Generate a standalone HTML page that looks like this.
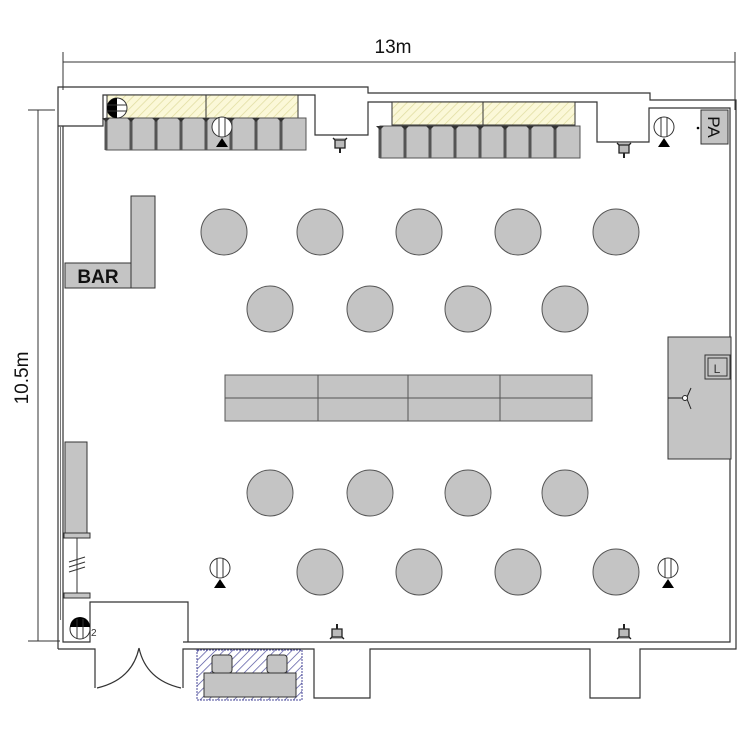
<!DOCTYPE html>
<html><head><meta charset="utf-8"><style>body{margin:0;background:#fff}svg{display:block}</style></head><body>
<svg width="750" height="750" viewBox="0 0 750 750" xmlns="http://www.w3.org/2000/svg" font-family="Liberation Sans, sans-serif">
<defs>
<pattern id="yh" width="6" height="6" patternUnits="userSpaceOnUse" patternTransform="rotate(45)"><rect width="6" height="6" fill="#fbf8d8"/><line x1="0" y1="0" x2="0" y2="6" stroke="#e0dca0" stroke-width="1.5"/></pattern>
<pattern id="bh" width="6" height="6" patternUnits="userSpaceOnUse" patternTransform="rotate(45)"><rect width="6" height="6" fill="#fff"/><line x1="0" y1="0" x2="0" y2="6" stroke="#4a4a9a" stroke-width="1.4"/></pattern>
<g id="spk"><circle cx="0" cy="0" r="10" fill="#fff" stroke="#333" stroke-width="1"/><line x1="-3" y1="-10" x2="-3" y2="10" stroke="#333"/><line x1="3" y1="-10" x2="3" y2="10" stroke="#333"/><polygon points="0,11 -6,20 6,20" fill="#000"/></g>
<g id="lamp"><path d="M-7,-5 L-5,-3 L-5,5 L5,5 L5,-3 L7,-5 M-5,-3 L5,-3" fill="#bbb" stroke="#222" stroke-width="1.3"/><line x1="0" y1="5" x2="0" y2="10" stroke="#222" stroke-width="2"/></g>
<g id="chair"><rect x="0" y="0" width="25" height="32" fill="#c4c4c4" stroke="#555" stroke-width="1"/><rect x="-1.5" y="0" width="3" height="32" fill="#555"/><path d="M-4,0 L4,0 L0,4 Z" fill="#333"/></g>
</defs>
<!-- dimensions -->
<line x1="63" y1="62" x2="735" y2="62" stroke="#333"/>
<line x1="63" y1="52" x2="63" y2="90" stroke="#333"/>
<line x1="735" y1="52" x2="735" y2="110" stroke="#333"/>
<text x="393" y="53" font-size="19" text-anchor="middle" fill="#111">13m</text>
<line x1="38" y1="110" x2="38" y2="641" stroke="#333"/>
<line x1="28" y1="110" x2="55" y2="110" stroke="#333"/>
<line x1="28" y1="641" x2="60" y2="641" stroke="#333"/>
<text transform="translate(28,378) rotate(-90)" font-size="19" text-anchor="middle" fill="#111">10.5m</text>
<!-- walls -->
<g fill="none" stroke="#333" stroke-width="1.2">
<path d="M58,649 L58,87 L368,87 L368,93 L650,93 L650,100 L736,100 L736,649 L640,649 L640,698 L590,698 L590,649 L370,649 L370,698 L314,698 L314,649 L183,649 L183,688"/>
<path d="M95,688 L95,649 L58,649"/>
<path d="M58,126 L103,126 L103,95 L315,95 L315,135 L368,135 L368,102 L597,102 L597,142 L649,142 L649,108 L730,108 L730,642 L183,642 L188,642 L188,602 L90,602 L90,642 L63,642 L63,126"/>
<path d="M97,688 Q132,680 139,648 M181,688 Q146,680 139,648"/>
</g>
<line x1="60.5" y1="126" x2="60.5" y2="620" stroke="#777" stroke-width="1"/>
<!-- top left seating -->
<rect x="107" y="95" width="191" height="23" fill="url(#yh)" stroke="#333"/>
<line x1="206" y1="95" x2="206" y2="118" stroke="#333"/>
<g><use href="#chair" x="106" y="118"/><use href="#chair" x="131" y="118"/><use href="#chair" x="156" y="118"/><use href="#chair" x="181" y="118"/><use href="#chair" x="206" y="118"/><use href="#chair" x="231" y="118"/><use href="#chair" x="256" y="118"/><use href="#chair" x="281" y="118"/></g>
<circle cx="117" cy="108" r="10" fill="#fff" stroke="#333"/><path d="M117,98 A10,10 0 0 0 117,118 Z" fill="#000"/><line x1="107" y1="105" x2="127" y2="105" stroke="#333"/><line x1="107" y1="111" x2="127" y2="111" stroke="#333"/>
<use href="#spk" x="222" y="127"/>
<!-- top right seating -->
<rect x="392" y="102" width="183" height="23" fill="url(#yh)" stroke="#333"/>
<line x1="483" y1="102" x2="483" y2="125" stroke="#333"/>
<g><use href="#chair" x="380" y="126"/><use href="#chair" x="405" y="126"/><use href="#chair" x="430" y="126"/><use href="#chair" x="455" y="126"/><use href="#chair" x="480" y="126"/><use href="#chair" x="505" y="126"/><use href="#chair" x="530" y="126"/><use href="#chair" x="555" y="126"/></g>
<use href="#lamp" x="340" y="143"/>
<use href="#lamp" x="624" y="148"/>
<use href="#spk" x="664" y="127"/>
<circle cx="698" cy="128" r="1.3" fill="#000"/>
<rect x="701" y="110" width="27" height="34" fill="#c4c4c4" stroke="#333"/>
<text transform="translate(708,127) rotate(90)" font-size="17" text-anchor="middle" fill="#111">PA</text>
<!-- bar -->
<rect x="131" y="196" width="24" height="92" fill="#c4c4c4" stroke="#333"/>
<rect x="65" y="263" width="66" height="25" fill="#c4c4c4" stroke="#333"/>
<text x="98" y="283" font-size="19" font-weight="bold" text-anchor="middle" fill="#111">BAR</text>
<!-- round tables -->
<g fill="#c4c4c4" stroke="#555" stroke-width="1">
<circle cx="224" cy="232" r="23"/><circle cx="320" cy="232" r="23"/><circle cx="419" cy="232" r="23"/><circle cx="518" cy="232" r="23"/><circle cx="616" cy="232" r="23"/>
<circle cx="270" cy="309" r="23"/><circle cx="370" cy="309" r="23"/><circle cx="468" cy="309" r="23"/><circle cx="565" cy="309" r="23"/>
<circle cx="270" cy="493" r="23"/><circle cx="370" cy="493" r="23"/><circle cx="468" cy="493" r="23"/><circle cx="565" cy="493" r="23"/>
<circle cx="320" cy="572" r="23"/><circle cx="419" cy="572" r="23"/><circle cx="518" cy="572" r="23"/><circle cx="616" cy="572" r="23"/>
</g>
<!-- center table -->
<rect x="225" y="375" width="367" height="46" fill="#c4c4c4" stroke="#555"/>
<g stroke="#555"><line x1="225" y1="398" x2="592" y2="398"/><line x1="318" y1="375" x2="318" y2="421"/><line x1="408" y1="375" x2="408" y2="421"/><line x1="500" y1="375" x2="500" y2="421"/></g>
<!-- stage -->
<rect x="668" y="337" width="63" height="122" fill="#c4c4c4" stroke="#333"/>
<rect x="705" y="355" width="25" height="24" fill="#c4c4c4" stroke="#333"/><rect x="708" y="358" width="19" height="18" fill="none" stroke="#333"/>
<text x="717" y="373" font-size="12" text-anchor="middle" fill="#333">L</text>
<g stroke="#222" fill="none"><line x1="668" y1="398" x2="682" y2="398"/><circle cx="685" cy="398" r="2.5" fill="#fff"/><line x1="687" y1="397" x2="691" y2="388"/><line x1="687" y1="399" x2="691" y2="409"/></g>
<!-- left counter -->
<rect x="65" y="442" width="22" height="91" fill="#c4c4c4" stroke="#333"/>
<rect x="64" y="533" width="26" height="5" fill="#c4c4c4" stroke="#333"/>
<rect x="64" y="593" width="26" height="5" fill="#c4c4c4" stroke="#333"/>
<line x1="77" y1="538" x2="77" y2="593" stroke="#333"/>
<g stroke="#333"><line x1="69" y1="562" x2="85" y2="557"/><line x1="69" y1="567" x2="85" y2="562"/><line x1="69" y1="572" x2="85" y2="567"/></g>
<!-- speakers -->
<use href="#spk" x="220" y="568"/>
<use href="#spk" x="668" y="568"/>
<circle cx="80" cy="629" r="10" fill="#fff" stroke="#333"/><path d="M70,627 A10,10 0 0 1 90,627 Z" fill="#000"/><line x1="77" y1="619" x2="77" y2="639" stroke="#333"/><line x1="83" y1="619" x2="83" y2="639" stroke="#333"/>
<text x="91" y="636" font-size="10" fill="#333">2</text>
<!-- bottom lamps -->
<g transform="translate(337,634) scale(1,-1)"><use href="#lamp"/></g>
<g transform="translate(624,634) scale(1,-1)"><use href="#lamp"/></g>
<!-- sofa -->
<rect x="197" y="650" width="105" height="50" fill="url(#bh)" stroke="#4a4a9a" stroke-dasharray="2,1"/>
<rect x="204" y="673" width="92" height="24" fill="#c4c4c4" stroke="#333"/>
<rect x="212" y="655" width="20" height="18" rx="3" fill="#c4c4c4" stroke="#333"/>
<rect x="267" y="655" width="20" height="18" rx="3" fill="#c4c4c4" stroke="#333"/>
</svg>
</body></html>
